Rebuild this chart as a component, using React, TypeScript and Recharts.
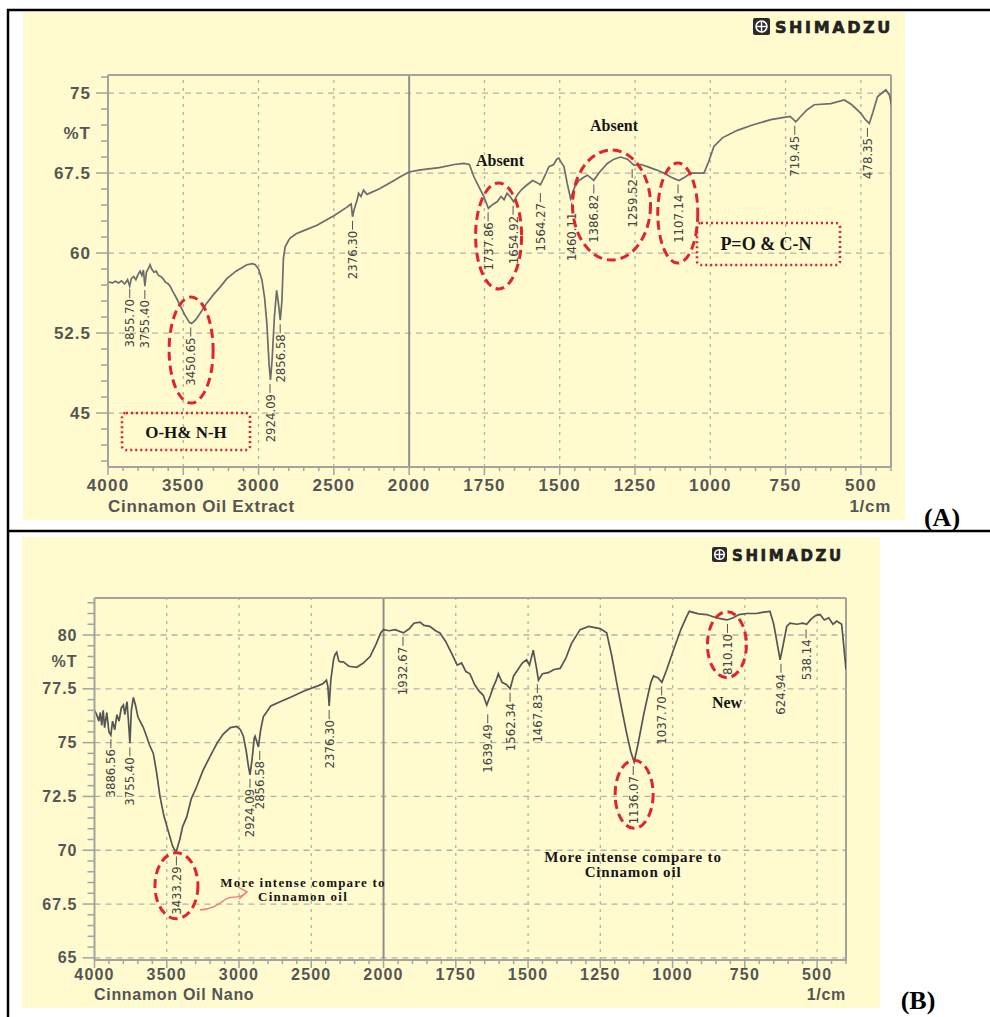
import React from "react";
import { ComposedChart, Line, XAxis, YAxis, ReferenceLine, ReferenceDot } from "recharts";

// wavenumber (1/cm) and %T
const wnA = [4000, 3970, 3950, 3930, 3910, 3890, 3870, 3856, 3845, 3830, 3815, 3800, 3787, 3775, 3765, 3755, 3745, 3730, 3721, 3710, 3695, 3680, 3665, 3650, 3635, 3620, 3600, 3588, 3570, 3550, 3521, 3490, 3460, 3445, 3420, 3390, 3344, 3300, 3250, 3211, 3150, 3078, 3040, 3022, 3000, 2978, 2960, 2945, 2930, 2921, 2910, 2895, 2880, 2870, 2856, 2845, 2835, 2823, 2800, 2790, 2750, 2700, 2612, 2500, 2413, 2395, 2385, 2376, 2365, 2345, 2336, 2320, 2303, 2280, 2200, 2100, 2059, 2000, 1963, 1900, 1850, 1819, 1800, 1785, 1770, 1752, 1737, 1720, 1708, 1695, 1685, 1675, 1665, 1653, 1640, 1625, 1608, 1590, 1575, 1564, 1550, 1536, 1520, 1510, 1503, 1495, 1486, 1475, 1464, 1450, 1436, 1420, 1408, 1395, 1387, 1370, 1342, 1320, 1298, 1275, 1254, 1230, 1209, 1180, 1154, 1130, 1104, 1085, 1065, 1040, 1021, 1005, 988, 960, 910, 860, 799, 760, 735, 716, 700, 680, 655, 600, 555, 530, 500, 485, 472, 460, 445, 430, 417, 405, 395];
const tA = [57.3, 57.2, 57.35, 57.2, 57.4, 57.1, 57.5, 56.9, 57.6, 57.8, 57.5, 58.0, 58.3, 57.9, 58.4, 56.9, 58.2, 58.6, 58.9, 58.5, 58.2, 58.3, 57.9, 57.8, 57.6, 57.3, 57.1, 56.9, 56.4, 55.9, 55.1, 54.2, 53.5, 53.4, 53.7, 54.3, 55.3, 56.1, 56.9, 57.6, 58.3, 58.9, 59.0, 58.9, 58.5, 57.5, 55.8, 53.4, 49.5, 48.1, 50.0, 54.0, 56.5, 55.5, 53.7, 55.5, 59.5, 60.6, 61.2, 61.4, 61.8, 62.1, 62.6, 63.5, 64.3, 64.5, 64.6, 63.4, 64.1, 65.0, 65.6, 65.3, 65.9, 65.5, 66.0, 66.8, 67.15, 67.6, 67.8, 68.0, 68.3, 68.4, 68.3, 67.15, 66.3, 65.3, 64.2, 64.6, 64.8, 65.3, 65.0, 65.6, 65.3, 64.8, 65.5, 66.0, 66.4, 66.8, 66.6, 66.4, 67.2, 68.1, 68.3, 68.8, 68.9, 68.5, 68.1, 66.5, 65.1, 66.2, 66.8, 67.1, 67.3, 67.0, 66.8, 67.5, 68.4, 68.8, 69.0, 68.8, 68.25, 68.3, 68.1, 67.8, 67.5, 67.1, 66.8, 67.1, 67.5, 67.5, 67.5, 68.6, 70.0, 70.8, 71.5, 72.0, 72.5, 72.7, 72.8, 72.3, 72.8, 73.4, 73.9, 74.0, 74.35, 73.9, 73.1, 72.5, 72.15, 73.2, 74.65, 75.0, 75.3, 74.8, 73.4];

const wnB = [4000, 3985, 3970, 3960, 3950, 3940, 3930, 3915, 3900, 3887, 3875, 3860, 3845, 3830, 3815, 3800, 3790, 3775, 3765, 3755, 3745, 3731, 3715, 3700, 3685, 3662, 3640, 3620, 3593, 3570, 3547, 3520, 3490, 3460, 3436, 3410, 3390, 3362, 3330, 3293, 3250, 3201, 3150, 3109, 3060, 3016, 2990, 2970, 2950, 2935, 2924, 2910, 2895, 2889, 2875, 2866, 2850, 2832, 2780, 2700, 2647, 2550, 2450, 2417, 2395, 2385, 2376, 2365, 2345, 2335, 2324, 2310, 2300, 2278, 2240, 2186, 2140, 2093, 2050, 2020, 2001, 1980, 1960, 1931, 1910, 1895, 1874, 1860, 1840, 1820, 1805, 1785, 1770, 1759, 1745, 1730, 1715, 1701, 1685, 1670, 1655, 1643, 1630, 1620, 1610, 1603, 1590, 1575, 1562, 1550, 1535, 1520, 1505, 1495, 1482, 1470, 1464, 1450, 1430, 1410, 1389, 1370, 1350, 1320, 1290, 1251, 1228, 1210, 1195, 1182, 1160, 1145, 1133, 1120, 1100, 1089, 1075, 1066, 1050, 1037, 1020, 997, 970, 950, 942, 910, 882, 850, 830, 812, 790, 770, 743, 710, 690, 663, 650, 638, 628, 618, 605, 594, 570, 550, 536, 520, 505, 490, 475, 460, 445, 432, 415, 400];
const tB = [76.5, 76.3, 76.0, 76.4, 75.8, 76.5, 75.7, 76.4, 75.5, 75.35, 76.0, 75.6, 76.3, 76.0, 76.6, 76.75, 76.3, 76.9, 76.0, 74.97, 76.5, 77.1, 76.7, 76.2, 76.0, 75.7, 75.3, 74.9, 74.5, 73.6, 72.5, 71.6, 70.9, 70.2, 69.9, 70.5, 71.1, 71.55, 72.4, 72.95, 73.7, 74.35, 75.0, 75.4, 75.7, 75.75, 75.6, 75.3, 74.6, 73.9, 73.5, 74.2, 75.2, 75.3, 75.0, 74.8, 75.6, 76.2, 76.7, 76.95, 77.1, 77.4, 77.65, 77.75, 77.9, 77.6, 76.7, 77.9, 78.9, 79.1, 79.2, 78.8, 78.75, 78.75, 78.55, 78.5, 78.7, 79.0, 79.6, 80.1, 80.25, 80.2, 80.25, 80.1, 80.3, 80.55, 80.6, 80.45, 80.4, 80.2, 80.1, 79.7, 79.3, 79.0, 78.6, 78.7, 78.3, 78.2, 77.7, 77.4, 77.2, 76.75, 77.2, 77.6, 77.9, 78.2, 77.8, 77.7, 77.5, 78.1, 78.4, 78.7, 78.85, 78.6, 79.3, 78.4, 77.9, 78.2, 78.25, 78.4, 78.45, 78.9, 79.6, 80.25, 80.4, 80.3, 80.1, 79.0, 77.9, 76.98, 75.5, 74.6, 74.1, 74.9, 76.3, 76.98, 77.8, 78.1, 78.0, 77.8, 78.4, 79.3, 80.3, 80.9, 81.1, 80.98, 80.95, 80.8, 80.75, 80.7, 80.8, 80.95, 81.0, 81.0, 81.05, 81.1, 80.5, 79.6, 78.85, 79.5, 80.4, 80.55, 80.5, 80.55, 80.5, 80.75, 80.9, 80.95, 80.7, 80.8, 80.5, 80.65, 80.5, 78.4];

// peak markers: wavenumber and %T at the marked point
const peakWnA = [3855.70, 3755.40, 3450.65, 2924.09, 2856.58, 2376.30, 1737.86, 1654.92, 1564.27, 1460.11, 1386.82, 1259.52, 1107.14, 719.45, 478.35];
const peakTA = [57.0, 56.9, 53.4, 48.1, 53.7, 63.4, 64.2, 64.8, 66.0, 65.1, 66.8, 68.25, 66.8, 72.3, 72.1];
const peakWnB = [3886.56, 3755.40, 3433.29, 2924.09, 2856.58, 2376.30, 1932.67, 1639.49, 1562.34, 1467.83, 1136.07, 1037.70, 810.10, 624.94, 538.14];
const peakTB = [75.35, 74.97, 69.9, 73.5, 74.8, 76.7, 80.1, 76.5, 77.5, 77.9, 74.1, 77.8, 80.7, 78.85, 80.45];

const xTickLabels = [4000, 3500, 3000, 2500, 2000, 1750, 1500, 1250, 1000, 750, 500];
const yMajorA = [45, 52.5, 60, 67.5, 75];
const yMajorB = [65, 67.5, 70, 72.5, 75, 77.5, 80];

// red dashed ovals (centre in data units, radii in px)
const ovalsA = [
  { wn: 3448, t: 50.9, rx: 22, ry: 53 },
  { wn: 1703, t: 61.6, rx: 23, ry: 53 },
  { wn: 1328, t: 64.5, rx: 39, ry: 55 },
  { wn: 1108, t: 63.75, rx: 20, ry: 50 },
];
const ovalsB = [
  { wn: 3433, t: 68.35, rx: 21.5, ry: 33 },
  { wn: 1133, t: 72.6, rx: 19, ry: 34 },
  { wn: 812, t: 79.55, rx: 19.5, ry: 33 },
];

// Shimadzu axis: 4000-2000 at half scale, 2000-400 at full scale
const toPos = (w: number) => (w >= 2000 ? (4000 - w) / 2 : 3000 - w);
const toWn = (p: number) => Math.round(p <= 1000 ? 4000 - 2 * p : 3000 - p);

const rowsA = wnA.map((w, i) => ({ p: toPos(w), t: tA[i] }));
const rowsB = wnB.map((w, i) => ({ p: toPos(w), t: tB[i] }));

const xMajor = xTickLabels.map(toPos);
const xTicks: number[] = [];
for (let p = 0; p <= 2600; p += 50) xTicks.push(p);

const domA: [number, number] = [39.94, 76.69];
const domB: [number, number] = [64.9, 81.72];
const ticksA: number[] = [];
for (let v = 40.5; v <= 76.6; v += 1.5) ticksA.push(Math.round(v * 100) / 100);
ticksA.push(71.25);
const ticksB: number[] = [];
for (let v = 65; v <= 81.6; v += 0.5) ticksB.push(Math.round(v * 100) / 100);
ticksB.push(78.75);

const AXIS = "#a3a3a0";
const GRID = "#b3b2a6";
const TICKFONT = "'Liberation Sans', Arial, sans-serif";
const NARROW = "'Liberation Sans Narrow', 'DejaVu Sans Condensed', 'Liberation Sans', sans-serif";
const SERIF = "'Liberation Serif', 'Times New Roman', serif";

const near = (a: number, b: number) => Math.abs(a - b) < 1e-6;

const makeYTick = (majors: number[], tVal: number, fs: number) => (props: any) => {
  const { x, y, payload } = props;
  const v = payload.value;
  if (near(v, tVal)) {
    return (
      <text x={x - 17} y={y} textAnchor="end" dominantBaseline="central" fontSize={fs} fontWeight="bold" fill="#555" fontFamily={TICKFONT} letterSpacing={1}>
        %T
      </text>
    );
  }
  const major = majors.some((m) => near(m, v));
  return (
    <g>
      <line x1={x - (major ? 12 : 7)} x2={x} y1={y} y2={y} stroke={AXIS} strokeWidth={1.5} />
      {major && (
        <text x={x - 17} y={y} textAnchor="end" dominantBaseline="central" fontSize={fs} fontWeight="bold" fill="#555" fontFamily={TICKFONT} letterSpacing={1}>
          {String(v)}
        </text>
      )}
    </g>
  );
};

const makeXTick = (fs: number, dy: number) => (props: any) => {
  const { x, y, payload } = props;
  const v = payload.value;
  const major = xMajor.some((m) => near(m, v));
  return (
    <g>
      <line x1={x} x2={x} y1={y} y2={y + (major ? 8 : 4)} stroke={AXIS} strokeWidth={1.5} />
      {major && (
        <text x={x} y={y + dy} textAnchor="middle" dominantBaseline="central" fontSize={fs} fontWeight="bold" fill="#555" fontFamily={TICKFONT} letterSpacing={1.2}>
          {String(toWn(v))}
        </text>
      )}
    </g>
  );
};

const peakShape = (text: string) => (props: any) => {
  const { cx, cy } = props;
  const y0 = cy + 4;
  const ty = y0 + 10;
  return (
    <g>
      <line x1={cx} x2={cx} y1={y0} y2={y0 + 9} stroke="#555" strokeWidth={1} />
      <text x={cx} y={ty} transform={`rotate(-90 ${cx} ${ty})`} textAnchor="end" dominantBaseline="central" fontSize={13} fill="#444" fontFamily={NARROW}>
        {text}
      </text>
    </g>
  );
};

const ovalShape = (rx: number, ry: number) => (props: any) => (
  <ellipse cx={props.cx} cy={props.cy} rx={rx} ry={ry} fill="none" stroke="#e3232b" strokeWidth={3} strokeDasharray="9 5" />
);

interface SpectrumProps {
  rows: { p: number; t: number }[];
  dom: [number, number];
  ticks: number[];
  majors: number[];
  tVal: number;
  peakWn: number[];
  peakT: number[];
  ovals: { wn: number; t: number; rx: number; ry: number }[];
  height: number;
  margin: { top: number; right: number; bottom: number; left: number };
  fs: number;
  dy: number;
  lineColor: string;
}

const Spectrum = ({ rows, dom, ticks, majors, tVal, peakWn, peakT, ovals, height, margin, fs, dy, lineColor }: SpectrumProps) => (
  <ComposedChart width={990} height={height} data={rows} margin={margin}>
    <XAxis
      dataKey="p"
      type="number"
      domain={[0, 2600]}
      allowDataOverflow
      ticks={xTicks}
      interval={0}
      tickSize={0}
      tickMargin={0}
      tickLine={false}
      axisLine={{ stroke: AXIS, strokeWidth: 2 }}
      height={40}
      tick={makeXTick(fs, dy)}
    />
    <YAxis
      dataKey="t"
      type="number"
      domain={dom}
      allowDataOverflow
      ticks={ticks}
      interval={0}
      tickSize={0}
      tickMargin={0}
      tickLine={false}
      axisLine={{ stroke: AXIS, strokeWidth: 2 }}
      width={60}
      tick={makeYTick(majors, tVal, fs)}
    />
    {majors.map((m) => (
      <ReferenceLine key={`h${m}`} y={m} stroke={GRID} strokeWidth={1.3} strokeDasharray="6 5" />
    ))}
    {xMajor.filter((p) => p !== 0 && p !== 1000).map((p) => (
      <ReferenceLine key={`v${p}`} x={p} stroke={GRID} strokeWidth={1.3} strokeDasharray="3 5" />
    ))}
    <ReferenceLine x={1000} stroke="#8f8f8c" strokeWidth={2} />
    <ReferenceLine x={2600} stroke={AXIS} strokeWidth={2} />
    <ReferenceLine y={dom[1]} stroke={AXIS} strokeWidth={2} />
    <Line dataKey="t" type="linear" dot={false} stroke={lineColor} strokeWidth={1.7} isAnimationActive={false} />
    {peakWn.map((w, i) => (
      <ReferenceDot key={`pk${w}`} x={toPos(w)} y={peakT[i]} r={0} shape={peakShape(w.toFixed(2))} />
    ))}
    {ovals.map((o) => (
      <ReferenceDot key={`ov${o.wn}`} x={toPos(o.wn)} y={o.t} r={0} shape={ovalShape(o.rx, o.ry)} />
    ))}
  </ComposedChart>
);

const Logo = ({ x, y, s, fs }: { x: number; y: number; s: number; fs: number }) => (
  <g>
    <rect x={x} y={y} width={s} height={s} rx={2} fill="#2b2b2b" />
    <circle cx={x + s / 2} cy={y + s / 2} r={s * 0.32} fill="none" stroke="#fff" strokeWidth={1.6} />
    <line x1={x + s / 2} x2={x + s / 2} y1={y + s * 0.18} y2={y + s * 0.82} stroke="#fff" strokeWidth={1.4} />
    <line x1={x + s * 0.18} x2={x + s * 0.82} y1={y + s / 2} y2={y + s / 2} stroke="#fff" strokeWidth={1.4} />
    <text x={x + s + 5} y={y + s / 2 + 1} dominantBaseline="central" fontSize={fs} fontWeight="900" fill="#222" stroke="#222" strokeWidth={0.6} fontFamily="'DejaVu Sans', sans-serif" letterSpacing={2.6}>
      SHIMADZU
    </text>
  </g>
);

export default function App() {
  const bold = { fontFamily: SERIF, fontWeight: "bold" as const, fill: "#151515" };
  const axisTitle = { fontFamily: TICKFONT, fontWeight: "bold" as const, fill: "#555", letterSpacing: 0.7 };
  return (
    <div style={{ position: "relative", width: 990, height: 1017, overflow: "hidden", background: "#fff" }}>
      <style>{"body{margin:0;overflow:hidden}"}</style>
      <div style={{ position: "absolute", left: 23, top: 12, width: 882, height: 508, background: "#fffbcf" }} />
      <div style={{ position: "absolute", left: 22, top: 537, width: 858, height: 471, background: "#fffbcf" }} />

      <div style={{ position: "absolute", left: 0, top: 0 }}>
        <Spectrum
          rows={rowsA}
          dom={domA}
          ticks={ticksA}
          majors={yMajorA}
          tVal={71.25}
          peakWn={peakWnA}
          peakT={peakTA}
          ovals={ovalsA}
          height={530}
          margin={{ top: 75, right: 99, bottom: 23, left: 48 }}
          fs={17}
          dy={18}
          lineColor="#6c6c6c"
        />
      </div>
      <div style={{ position: "absolute", left: 0, top: 530 }}>
        <Spectrum
          rows={rowsB}
          dom={domB}
          ticks={ticksB}
          majors={yMajorB}
          tVal={78.75}
          peakWn={peakWnB}
          peakT={peakTB}
          ovals={ovalsB}
          height={487}
          margin={{ top: 68, right: 144, bottom: 17, left: 34.5 }}
          fs={16}
          dy={14}
          lineColor="#555"
        />
      </div>

      <svg width={990} height={1017} style={{ position: "absolute", left: 0, top: 0, pointerEvents: "none" }}>
        {/* frame of the figure table */}
        <line x1={8} x2={8} y1={9} y2={1017} stroke="#000" strokeWidth={2.5} />
        <line x1={7} x2={990} y1={10} y2={10} stroke="#000" strokeWidth={2.5} />
        <line x1={7} x2={990} y1={531} y2={531} stroke="#000" strokeWidth={2.5} />

        <Logo x={753} y={18} s={17} fs={16} />
        <Logo x={712} y={547} s={15} fs={15} />

        {/* panel A */}
        <text x={108} y={506} dominantBaseline="central" fontSize={17} {...axisTitle}>Cinnamon Oil Extract</text>
        <text x={891} y={506} textAnchor="end" dominantBaseline="central" fontSize={17} {...axisTitle}>1/cm</text>
        <text x={500} y={160} textAnchor="middle" dominantBaseline="central" fontSize={16} {...bold}>Absent</text>
        <text x={614} y={125} textAnchor="middle" dominantBaseline="central" fontSize={16} {...bold}>Absent</text>
        <rect x={122} y={413} width={128} height={37} rx={4} fill="none" stroke="#e3232b" strokeWidth={2.6} strokeDasharray="2 3" />
        <text x={186} y={432} textAnchor="middle" dominantBaseline="central" fontSize={17} {...bold}>O-H&amp; N-H</text>
        <rect x={697} y={223} width={143} height={42} rx={4} fill="none" stroke="#e3232b" strokeWidth={2.6} strokeDasharray="2 3" />
        <text x={766} y={244} textAnchor="middle" dominantBaseline="central" fontSize={18} {...bold}>P=O &amp; C-N</text>
        <text x={942} y={517} textAnchor="middle" dominantBaseline="central" fontSize={26} {...bold} fill="#000">(A)</text>

        {/* panel B */}
        <text x={94} y={994} dominantBaseline="central" fontSize={16} {...axisTitle}>Cinnamon Oil Nano</text>
        <text x={846} y={994} textAnchor="end" dominantBaseline="central" fontSize={16} {...axisTitle}>1/cm</text>
        <text x={303} y={882} textAnchor="middle" dominantBaseline="central" fontSize={13} letterSpacing={1.2} {...bold}>More intense compare to</text>
        <text x={303} y={896} textAnchor="middle" dominantBaseline="central" fontSize={13} letterSpacing={1.2} {...bold}>Cinnamon oil</text>
        <path d="M200,910 C214,909 220,903 226,899 C232,895 238,900 246,893" fill="none" stroke="#f07a7a" strokeWidth={1.4} />
        <polyline points="238,887 247,892 239,899" fill="none" stroke="#f07a7a" strokeWidth={1.4} />
        <text x={633} y={857} textAnchor="middle" dominantBaseline="central" fontSize={15} letterSpacing={0.8} {...bold}>More intense compare to</text>
        <text x={633} y={872} textAnchor="middle" dominantBaseline="central" fontSize={15} letterSpacing={0.8} {...bold}>Cinnamon oil</text>
        <text x={727} y={702} textAnchor="middle" dominantBaseline="central" fontSize={16} {...bold}>New</text>
        <text x={918} y={1000} textAnchor="middle" dominantBaseline="central" fontSize={26} {...bold} fill="#000">(B)</text>
      </svg>
    </div>
  );
}
